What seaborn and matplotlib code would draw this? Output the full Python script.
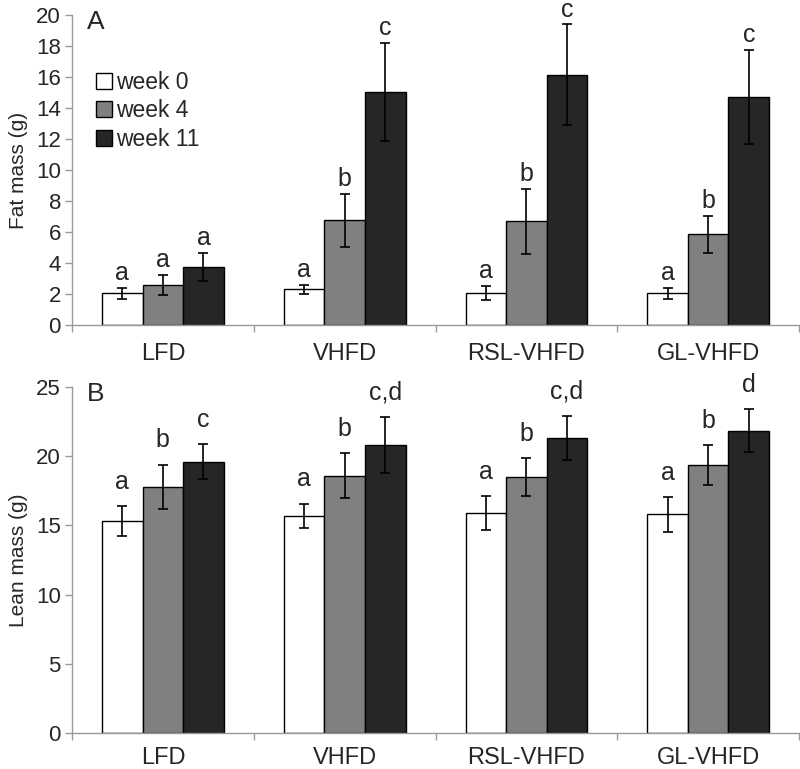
import seaborn as sns
import pandas as pd
import numpy as np
import matplotlib.pyplot as plt
from matplotlib.patches import Patch

diets = ['LFD', 'VHFD', 'RSL-VHFD', 'GL-VHFD']
weeks = ['week 0', 'week 4', 'week 11']

fat_w0 = [2.05, 2.3, 2.05, 2.05]
fat_w4 = [2.6, 6.75, 6.7, 5.85]
fat_w11 = [3.75, 15.05, 16.15, 14.7]
fat_err_w0 = [0.35, 0.3, 0.45, 0.35]
fat_err_w4 = [0.65, 1.7, 2.1, 1.2]
fat_err_w11 = [0.9, 3.15, 3.25, 3.05]
fat_letters = [['a', 'a', 'a', 'a'], ['a', 'b', 'b', 'b'], ['a', 'c', 'c', 'c']]

lean_w0 = [15.3, 15.7, 15.9, 15.8]
lean_w4 = [17.8, 18.6, 18.5, 19.35]
lean_w11 = [19.6, 20.8, 21.3, 21.85]
lean_err_w0 = [1.1, 0.85, 1.2, 1.25]
lean_err_w4 = [1.6, 1.6, 1.35, 1.45]
lean_err_w11 = [1.25, 2.0, 1.6, 1.55]
lean_letters = [['a', 'a', 'a', 'a'], ['b', 'b', 'b', 'b'], ['c', 'c,d', 'c,d', 'd']]

colors = ['#ffffff', '#808080', '#262626']

sns.set_style('white')
plt.rcParams['font.family'] = ['Liberation Sans', 'DejaVu Sans']


def make_df(vals, errs):
    rows = []
    for wk, v, e in zip(weeks, vals, errs):
        for d, vv, ee in zip(diets, v, e):
            rows.append({'diet': d, 'week': wk, 'value': vv, 'err': ee})
    return pd.DataFrame(rows)


fat = make_df([fat_w0, fat_w4, fat_w11], [fat_err_w0, fat_err_w4, fat_err_w11])
lean = make_df([lean_w0, lean_w4, lean_w11], [lean_err_w0, lean_err_w4, lean_err_w11])

fig = plt.figure(figsize=(8, 7.69), dpi=100)
ax1 = fig.add_axes([0.09, 0.5774, 0.9088, 0.4031])
ax2 = fig.add_axes([0.09, 0.0468, 0.9088, 0.4499])


def draw(ax, df, letters, ymax, step, ylabel, tag, pad, xpad):
    sns.barplot(data=df, x='diet', y='value', hue='week', order=diets, hue_order=weeks,
                palette=colors, errorbar=None, width=0.67, gap=0, edgecolor='black',
                linewidth=1.0, legend=False, ax=ax)
    # bar containers are in hue order
    bars = list(ax.containers)[:3]
    for i, cont in enumerate(bars):
        sub = df[df.week == weeks[i]].set_index('diet').loc[diets]
        for j, p in enumerate(cont.patches):
            x = p.get_x() + p.get_width() / 2
            v = sub['value'].iloc[j]
            e = sub['err'].iloc[j]
            ax.errorbar(x, v, yerr=e, color='black', capsize=3.5, elinewidth=1.2, capthick=1.2)
            ax.annotate(letters[i][j], (x, v + e), xytext=(0, pad), textcoords='offset points',
                        ha='center', va='bottom', fontsize=18, annotation_clip=False)
    ax.set_xlim(-0.5, 3.5)
    ax.set_ylim(0, ymax)
    ax.set_yticks(np.arange(0, ymax + 0.1, step))
    ax.set_xticks(range(4))
    ax.set_xticklabels(diets, fontsize=17)
    ax.set_xticks(np.arange(-0.5, 3.6, 1), minor=True)
    ax.tick_params(axis='x', which='major', length=0, pad=xpad)
    ax.tick_params(axis='x', which='minor', length=5, color='#999999', width=1, direction='out', bottom=True)
    ax.tick_params(axis='y', length=5, color='#999999', width=1, direction='out', left=True,
                   labelsize=16, pad=3)
    ax.set_xlabel('')
    ax.set_ylabel(ylabel, fontsize=15, labelpad=6)
    for s in ['top', 'right']:
        ax.spines[s].set_visible(False)
    for s in ['left', 'bottom']:
        ax.spines[s].set_color('#999999')
        ax.spines[s].set_linewidth(1)
    ax.text(0.02, 1.015, tag, transform=ax.transAxes, fontsize=19, va='top', ha='left')


draw(ax1, fat, fat_letters, 20, 2, 'Fat mass (g)', 'A', 2, 13)
draw(ax2, lean, lean_letters, 25, 5, 'Lean mass (g)', 'B', 9, 10)

handles = [Patch(facecolor=c, edgecolor='black', label=w) for c, w in zip(colors, weeks)]
ax1.legend(handles=handles, loc='upper left', bbox_to_anchor=(0.02, 0.85), frameon=False,
           fontsize=16.5, handlelength=0.7, handleheight=0.7, handletextpad=0.2,
           labelspacing=0.25, borderaxespad=0)

fig.savefig('out.png', dpi=100)
